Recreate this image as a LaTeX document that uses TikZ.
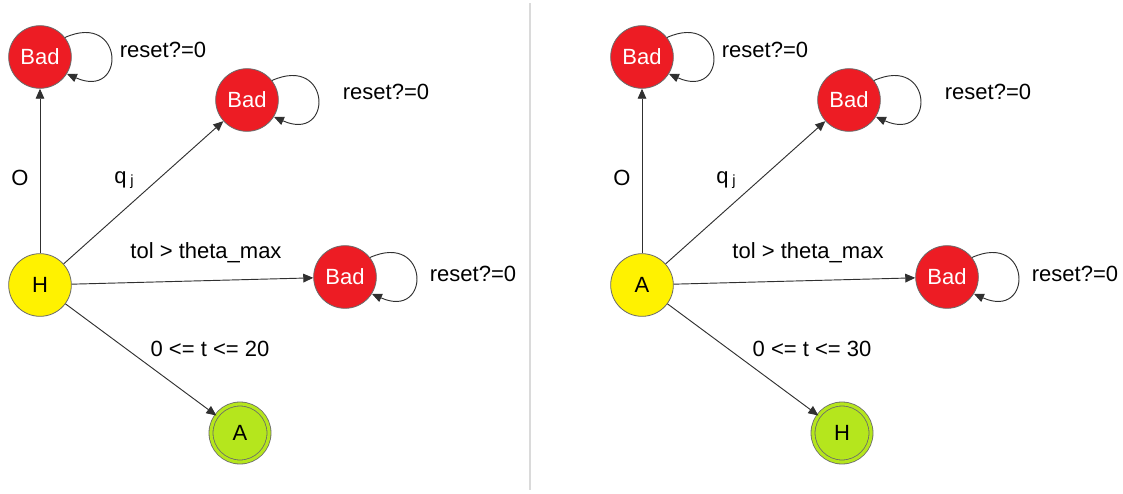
\documentclass[tikz,border=0pt]{standalone}
\usepackage{fontspec}
\setmainfont{Liberation Sans}
\usetikzlibrary{positioning, arrows.meta}
\definecolor{malo}{HTML}{ED1C24}
\definecolor{inicio}{HTML}{FFF200}
\definecolor{meta}{HTML}{B5E61D}
\definecolor{borde}{HTML}{6A6A6A}
\definecolor{trazo}{HTML}{303030}
\definecolor{divisor}{HTML}{DADADA}

\tikzset{
  estado/.style={circle, draw=borde, line width=0.6pt, minimum size=47pt,
                 inner sep=0pt, font=\fontsize{16.5}{20}\selectfont},
  malo/.style={estado, fill=malo, text=white},
  inicial/.style={estado, fill=inicio},
  final/.style={estado, fill=meta, minimum size=43.5pt,
                double=meta, double distance=2.4pt},
  flecha/.style={draw=trazo, line width=0.7pt,
                 -{Triangle[length=7.5pt, width=6.5pt]}},
  etiqueta/.style={font=\fontsize{16.5}{20}\selectfont, inner sep=0pt}
}

\begin{document}
\begin{tikzpicture}[x=0.75pt, y=-0.75pt]
  \useasboundingbox (0,0) rectangle (1123,493);

  % linea que separa los dos automatas
  \draw[divisor, line width=1.2pt] (530,3) -- (530,490);

  \foreach \dx/\ini/\fin/\tope/\p in {0/H/A/20/l, 602/A/H/30/r}{
    \begin{scope}[xshift=\dx*0.75pt]
      % estados
      \node[inicial] (ini\p)  at (40,285)  {\ini};
      \node[malo]    (bad1\p) at (40,57)   {Bad};
      \node[malo]    (bad2\p) at (247,100) {Bad};
      \node[malo]    (bad3\p) at (345,277) {Bad};
      \node[final]   (fin\p)  at (240,433) {\fin};

      % transiciones
      \draw[flecha] (ini\p) -- (bad1\p);
      \draw[flecha] (ini\p) -- (bad2\p);
      \draw[flecha] (ini\p) -- (bad3\p);
      \draw[flecha] (ini\p) -- (fin\p);
      \foreach \b in {1,2,3}
        \draw[flecha] (bad\b\p.38) .. controls +(24:49pt) and +(-24:49pt) .. (bad\b\p.-32);

      % guardas
      \node[etiqueta] (o\p)    at (20,178)  {O};
      \node[etiqueta] (q\p)    at (124,180) {q\,\raisebox{-1.5pt}{\fontsize{11}{13}\selectfont j}};
      \node[etiqueta] (tol\p)  at (206,253) {tol > theta\_max};
      \node[etiqueta] (t\p)    at (210,349) {0 <= t <= \tope};
      \node[etiqueta] (rst1\p) at (163,50)  {reset?=0};
      \node[etiqueta] (rst2\p) at (386,92)  {reset?=0};
      \node[etiqueta] (rst3\p) at (473,274) {reset?=0};
    \end{scope}
  }
\end{tikzpicture}
\end{document}
